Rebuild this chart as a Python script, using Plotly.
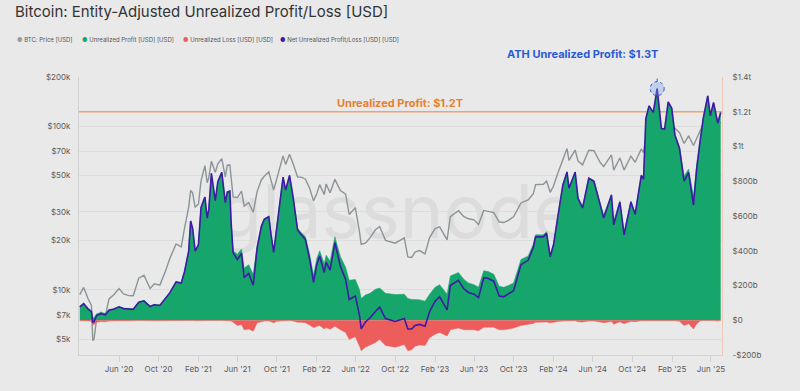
import plotly.graph_objects as go

# ---------------- data ----------------
dates = [
    # 2020
    "2020-02-01", "2020-02-13", "2020-02-27", "2020-03-08", "2020-03-12", "2020-03-16",
    "2020-03-24", "2020-04-06", "2020-04-20", "2020-05-01", "2020-05-15", "2020-06-01",
    "2020-06-15", "2020-07-01", "2020-07-15", "2020-08-01", "2020-08-17", "2020-09-05",
    "2020-09-18", "2020-10-05", "2020-10-21", "2020-11-05", "2020-11-24", "2020-12-10",
    "2020-12-20",
    # 2021
    "2021-01-02", "2021-01-08", "2021-01-14", "2021-01-22", "2021-02-01", "2021-02-09",
    "2021-02-21", "2021-02-28", "2021-03-05", "2021-03-13", "2021-03-25", "2021-04-02",
    "2021-04-14", "2021-04-25", "2021-05-01", "2021-05-09", "2021-05-13", "2021-05-19",
    "2021-06-01", "2021-06-14", "2021-06-22", "2021-07-06", "2021-07-20", "2021-08-01",
    "2021-08-14", "2021-08-23", "2021-09-06", "2021-09-13", "2021-09-21", "2021-10-01",
    "2021-10-20", "2021-10-28", "2021-11-09", "2021-11-20", "2021-12-04", "2021-12-15",
    "2021-12-28",
    # 2022
    "2022-01-10", "2022-01-22", "2022-02-01", "2022-02-10", "2022-02-24", "2022-03-02",
    "2022-03-14", "2022-03-29", "2022-04-15", "2022-05-01", "2022-05-12", "2022-05-31",
    "2022-06-13", "2022-06-18", "2022-07-01", "2022-07-15", "2022-08-01", "2022-08-14",
    "2022-09-01", "2022-09-15", "2022-10-01", "2022-10-29", "2022-11-09", "2022-11-21",
    "2022-12-01", "2022-12-15",
    # 2023
    "2023-01-01", "2023-01-15", "2023-02-01", "2023-02-15", "2023-03-10", "2023-03-20",
    "2023-04-14", "2023-05-01", "2023-05-15", "2023-06-01", "2023-06-15", "2023-07-01",
    "2023-07-15", "2023-08-01", "2023-08-18", "2023-09-01", "2023-09-15", "2023-10-01",
    "2023-10-24", "2023-11-15", "2023-12-01", "2023-12-08",
    # 2024
    "2024-01-01", "2024-01-11", "2024-01-22", "2024-02-01", "2024-02-15", "2024-03-01",
    "2024-03-14", "2024-03-20", "2024-04-08", "2024-04-17", "2024-05-01", "2024-05-20",
    "2024-06-05", "2024-06-24", "2024-07-05", "2024-07-29", "2024-08-05", "2024-08-24",
    "2024-09-06", "2024-09-27", "2024-10-10", "2024-10-29", "2024-11-05", "2024-11-12",
    "2024-11-22", "2024-12-05", "2024-12-17", "2024-12-30",
    # 2025
    "2025-01-09", "2025-01-20", "2025-01-31", "2025-02-10", "2025-02-24", "2025-03-10",
    "2025-03-24", "2025-04-08", "2025-04-18", "2025-04-28", "2025-05-08", "2025-05-22",
    "2025-05-30", "2025-06-09", "2025-06-22", "2025-07-01",
]

btc_price = [
    # 2020
    9350, 10350, 8800, 8050, 4900, 5000,
    6700, 7300, 6900, 8800, 9300, 10200,
    9450, 9230, 9200, 11800, 12300, 10200,
    10900, 10700, 12800, 15600, 19100, 18300,
    23800,
    # 2021
    32200, 40600, 39200, 32000, 33500, 46400,
    57500, 45200, 48500, 61200, 52300, 59000,
    63500, 49000, 57800, 58000, 49500, 37000,
    36700, 40200, 32500, 34200, 29800, 39900,
    47000, 49500, 52700, 46000, 40700, 48100,
    66000, 58500, 67500, 59000, 49000, 48900,
    47500,
    # 2022
    41800, 35000, 38700, 44000, 38300, 44400,
    39300, 47400, 40500, 38500, 28900, 31800,
    22500, 19000, 19300, 20800, 23300, 24400,
    20100, 19700, 19300, 20800, 15900, 15800,
    17000, 17400,
    # 2023
    16600, 20900, 23700, 24300, 20200, 28000,
    30500, 28000, 27200, 26800, 25100, 30600,
    30300, 29700, 26000, 25800, 26600, 28000,
    34000, 35500, 38700, 44000,
    # 2024
    44200, 46300, 39500, 43000, 52000, 62500,
    73100, 62000, 71600, 61300, 58200, 71400,
    71000, 60300, 56700, 66800, 54000, 64000,
    54000, 65800, 60300, 72700, 69000, 88000,
    98900, 97000, 106000, 92500,
    # 2025
    92500, 102000, 102400, 97400, 91500, 78500,
    87500, 76300, 84500, 95000, 103000, 111600,
    104000, 110000, 101000, 106000,
]

# values in billions of USD
unrealized_profit = [
    # 2020
    80, 98, 68, 55, 14, 16,
    38, 45, 40, 62, 66, 79,
    70, 67, 66, 106, 113, 82,
    92, 88, 124, 160, 222, 215,
    280,
    # 2021
    400, 572, 530, 400, 438, 650,
    710, 590, 640, 846, 690, 800,
    852, 680, 740, 745, 560, 400,
    380, 410, 300, 320, 265, 430,
    545, 585, 600, 500, 405, 545,
    825, 752, 836, 712, 530, 505,
    480,
    # 2022
    380, 260, 355, 400, 325, 375,
    340, 480, 365, 305, 230, 235,
    175, 125, 145, 155, 178, 185,
    155, 152, 148, 150, 125, 120,
    120, 118,
    # 2023
    110, 150, 190, 205, 150, 255,
    275, 235, 215, 205, 190, 285,
    280, 265, 195, 190, 200, 215,
    350, 370, 438, 492,
    # 2024
    492, 510, 381, 440, 607, 782,
    856, 766, 855, 708, 656, 821,
    804, 670, 604, 726, 572, 688,
    511, 686, 618, 837, 815, 1161,
    1235, 1197, 1334, 1106,
    # 2025
    1104, 1258, 1222, 1068, 995, 830,
    870, 713, 894, 1030, 1162, 1292,
    1180, 1255, 1140, 1198,
]

unrealized_loss = [
    # 2020
    -3, -2, -4, -6, -25, -24,
    -11, -7, -9, -4, -3, -2,
    -3, -3, -3, -2, -1, -3,
    -3, -3, -2, -1, -1, -1,
    -1,
    # 2021
    -1, -1, -1, -3, -2, -1,
    -1, -2, -2, -1, -2, -1,
    -1, -3, -2, -2, -4, -12,
    -30, -25, -55, -50, -63, -15,
    -6, -4, -4, -8, -15, -6,
    -2, -3, -2, -4, -12, -12,
    -15,
    # 2022
    -28, -42, -35, -30, -50, -42,
    -52, -34, -55, -70, -110, -95,
    -150, -175, -155, -142, -128, -110,
    -145, -150, -155, -140, -175, -170,
    -150, -142,
    # 2023
    -145, -100, -80, -70, -90, -55,
    -45, -55, -55, -55, -60, -40,
    -40, -40, -55, -55, -50, -45,
    -30, -25, -18, -12,
    # 2024
    -12, -10, -15, -10, -7, -5,
    -3, -6, -3, -8, -10, -4,
    -4, -10, -15, -6, -23, -8,
    -20, -6, -8, -3, -3, -1,
    -1, -1, -1, -3,
    # 2025
    -4, -2, -2, -3, -6, -30,
    -20, -50, -20, -5, -2, -1,
    -3, -2, -5, -2,
]

net_unrealized = [
    # 2020
    77, 96, 64, 49, -11, -8,
    27, 38, 31, 58, 63, 77,
    67, 64, 63, 104, 112, 79,
    89, 85, 122, 159, 221, 214,
    279,
    # 2021
    399, 571, 529, 397, 436, 649,
    709, 588, 638, 845, 688, 799,
    851, 677, 738, 743, 556, 388,
    350, 385, 245, 270, 202, 415,
    539, 581, 596, 492, 390, 539,
    823, 749, 834, 708, 518, 493,
    465,
    # 2022
    352, 218, 320, 370, 275, 333,
    288, 446, 310, 235, 120, 140,
    25, -50, -10, 13, 50, 75,
    10, 2, -7, 10, -50, -50,
    -30, -24,
    # 2023
    -35, 50, 110, 135, 60, 200,
    230, 180, 160, 150, 130, 245,
    240, 225, 140, 135, 150, 170,
    320, 345, 420, 480,
    # 2024
    480, 500, 366, 430, 600, 777,
    853, 760, 852, 700, 646, 817,
    800, 660, 589, 720, 549, 680,
    491, 680, 610, 834, 812, 1160,
    1234, 1196, 1333, 1103,
    # 2025
    1100, 1256, 1220, 1065, 989, 800,
    850, 663, 874, 1025, 1160, 1291,
    1177, 1253, 1135, 1196,
]

series_names = ["BTC: Price [USD]", "Unrealized Profit [USD] [USD]",
                "Unrealized Loss [USD] [USD]", "Net Unrealized Profit/Loss [USD] [USD]"]

price_tickvals = [5000, 7000, 10000, 20000, 30000, 50000, 70000, 100000, 200000]
price_ticktext = ["$5k", "$7k", "$10k", "$20k", "$30k", "$50k", "$70k", "$100k", "$200k"]
pl_tickvals = [-200, 0, 200, 400, 600, 800, 1000, 1200, 1400]
pl_ticktext = ["-$200b", "$0", "$200b", "$400b", "$600b", "$800b", "$1t", "$1.2t", "$1.4t"]
x_tickvals = ["2020-06-01", "2020-10-01", "2021-02-01", "2021-06-01", "2021-10-01",
              "2022-02-01", "2022-06-01", "2022-10-01", "2023-02-01", "2023-06-01",
              "2023-10-01", "2024-02-01", "2024-06-01", "2024-10-01", "2025-02-01",
              "2025-06-01"]
x_ticktext = ["Jun '20", "Oct '20", "Feb '21", "Jun '21", "Oct '21", "Feb '22", "Jun '22",
              "Oct '22", "Feb '23", "Jun '23", "Oct '23", "Feb '24", "Jun '24", "Oct '24",
              "Feb '25", "Jun '25"]

profit_level = 1200  # horizontal reference line, $bn

# ---------------- styling ----------------
BG = "#e9e9e9"
C_PRICE = "#8b9497"
C_PROFIT = "#16a66b"
C_LOSS = "#ec5d5b"
C_NET = "#3b1ca3"
C_ORANGE_LINE = "#f0a46c"
C_ORANGE_TXT = "#e8802c"
C_BLUE = "#2a5bd6"
FONT = "Inter"

fig = go.Figure()

# watermark (drawn first so everything sits above it)
fig.add_trace(go.Scatter(
    x=["2022-10-05"], y=[27000], mode="text", text=["glassnode"],
    textfont=dict(family=FONT, size=74, color="#dcdcdc"),
    hoverinfo="skip", showlegend=False, xaxis="x", yaxis="y"))

fig.add_trace(go.Scatter(
    x=dates, y=btc_price, name=series_names[0], mode="lines",
    line=dict(color=C_PRICE, width=1.4), xaxis="x", yaxis="y", showlegend=False))

fig.add_trace(go.Scatter(
    x=dates, y=unrealized_profit, name=series_names[1], mode="lines",
    line=dict(color=C_PROFIT, width=0.5), fill="tozeroy", fillcolor=C_PROFIT,
    xaxis="x", yaxis="y2", showlegend=False))

fig.add_trace(go.Scatter(
    x=dates, y=unrealized_loss, name=series_names[2], mode="lines",
    line=dict(color=C_LOSS, width=0.5), fill="tozeroy", fillcolor=C_LOSS,
    xaxis="x", yaxis="y2", showlegend=False))

fig.add_trace(go.Scatter(
    x=dates, y=net_unrealized, name=series_names[3], mode="lines",
    line=dict(color=C_NET, width=1.6), xaxis="x", yaxis="y2", showlegend=False))

# ---------------- layout ----------------
L, R, T, B = 79, 78, 77, 36
W, H = 800, 391
pw, ph = W - L - R, H - T - B


def px_x(px):
    return (px - L) / pw


def px_y(py):
    return (H - B - py) / ph


axis_font = dict(family=FONT, size=8, color="#5a5a5a")

fig.update_layout(
    width=W, height=H,
    margin=dict(l=L, r=R, t=T, b=B),
    paper_bgcolor=BG, plot_bgcolor=BG,
    showlegend=False,
    xaxis=dict(
        type="date", range=["2020-01-29 14:00", "2025-07-05"],
        tickvals=x_tickvals, ticktext=x_ticktext, tickfont=axis_font,
        ticks="outside", ticklen=6, tickcolor="#d2d2d2",
        showgrid=False, zeroline=False,
        showline=True, linecolor="#d2d2d2", linewidth=1,
    ),
    yaxis=dict(
        type="log", range=[3.602, 5.3015],
        tickvals=price_tickvals, ticktext=price_ticktext, tickfont=axis_font,
        ticks="outside", ticklen=6, tickcolor="rgba(0,0,0,0)",
        showgrid=True, gridcolor="#dddddd", gridwidth=1, zeroline=False,
        showline=True, linecolor="#d2d2d2", linewidth=1,
    ),
    yaxis2=dict(
        overlaying="y", side="right", range=[-200, 1400],
        tickvals=pl_tickvals, ticktext=pl_ticktext, tickfont=axis_font,
        ticks="outside", ticklen=8, tickcolor="rgba(0,0,0,0)",
        showgrid=False, zeroline=False,
        showline=True, linecolor="#f3c7b8", linewidth=1,
    ),
)

# orange reference line
fig.add_shape(type="line", xref="paper", x0=0, x1=1, yref="y2", y0=profit_level, y1=profit_level,
              line=dict(color=C_ORANGE_LINE, width=1.5), layer="below")
fig.add_annotation(xref="paper", x=px_x(400), yref="y2", y=profit_level, yshift=9,
                   text="<b>Unrealized Profit: $1.2T</b>", showarrow=False,
                   font=dict(family=FONT, size=11, color=C_ORANGE_TXT))

# ATH marker
ath_i = max(range(len(net_unrealized)), key=lambda i: net_unrealized[i])
ath_x, ath_y = dates[ath_i], net_unrealized[ath_i]
fig.add_shape(type="circle", xref="x", yref="y2", xsizemode="pixel", ysizemode="pixel",
              xanchor=ath_x, yanchor=ath_y, x0=-7, x1=7, y0=-7, y1=7,
              fillcolor="rgba(120,160,232,0.35)", line=dict(color=C_BLUE, width=1, dash="dot"))
fig.add_shape(type="line", xref="x", yref="y2", xsizemode="pixel", ysizemode="pixel",
              xanchor=ath_x, yanchor=ath_y, x0=0, x1=0, y0=7, y1=28,
              line=dict(color=C_BLUE, width=1, dash="dot"))
fig.add_shape(type="line", xref="x", yref="y2", xsizemode="pixel", ysizemode="pixel",
              xanchor=ath_x, yanchor=ath_y, x0=-151, x1=0, y0=28, y1=28,
              line=dict(color=C_BLUE, width=1, dash="dot"))
fig.add_annotation(xref="x", x=ath_x, yref="y2", y=ath_y, xshift=-75, yshift=35,
                   text="<b>ATH Unrealized Profit: $1.3T</b>", showarrow=False,
                   font=dict(family=FONT, size=11, color=C_BLUE))

# title
fig.add_annotation(xref="paper", yref="paper", x=px_x(13), y=px_y(12), xanchor="left",
                   yanchor="middle", showarrow=False,
                   text="Bitcoin: Entity-Adjusted Unrealized Profit/Loss [USD]",
                   font=dict(family=FONT, size=15, color="#333333"))

# legend (manual)
legend_colors = ["#9a9a9a", C_PROFIT, C_LOSS, C_NET]
legend_px = [15, 80, 181, 278]
for name, col, lx in zip(series_names, legend_colors, legend_px):
    fig.add_annotation(xref="paper", yref="paper", x=px_x(lx), y=px_y(40), xanchor="left",
                       yanchor="middle", showarrow=False,
                       text=f"<span style='color:{col}'>●</span> {name}",
                       font=dict(family=FONT, size=6, color="#555555"))

fig.write_html("out.html", config={"displayModeBar": False},
               post_script="document.body.style.margin='0';")
